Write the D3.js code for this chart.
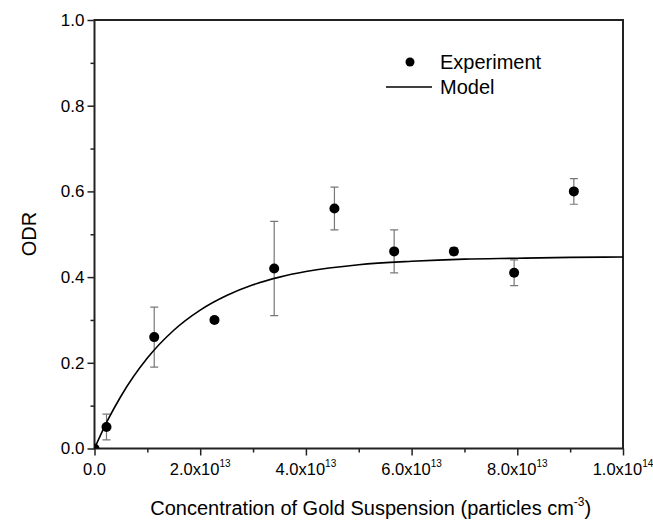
<!DOCTYPE html>
<html>
<head>
<meta charset="utf-8">
<script src="https://cdn.jsdelivr.net/npm/d3@7"></script>
<style>
  body { margin: 0; background: #fff; }
  svg { display: block; font-family: "Liberation Sans", Arial, sans-serif; }
</style>
</head>
<body>
<svg width="653" height="521"></svg>
<script>
// experiment (concentration in particles/cm^3, ODR, error)
const expConc = [0, 2.27e12, 1.13e13, 2.27e13, 3.4e13, 4.54e13, 5.67e13, 6.8e13, 7.94e13, 9.07e13];
const expOdr  = [0, 0.05, 0.26, 0.30, 0.42, 0.56, 0.46, 0.46, 0.41, 0.60];
const expErr  = [0, 0.03, 0.07, 0.006, 0.11, 0.05, 0.05, 0.008, 0.03, 0.03];

// model curve
const modelConc = [0, 0.25e13, 0.5e13, 1e13, 1.5e13, 2e13, 2.5e13, 3e13, 3.5e13, 4e13, 5e13, 6e13, 7e13, 8e13, 9e13, 1e14];
const modelOdr  = [0, 0.066, 0.122, 0.211, 0.276, 0.323, 0.357, 0.382, 0.400, 0.413, 0.429, 0.437, 0.442, 0.444, 0.446, 0.447];

const xTicks = [0, 2e13, 4e13, 6e13, 8e13, 1e14];
const yTicks = [0, 0.2, 0.4, 0.6, 0.8, 1.0];

const svg = d3.select("svg");
const mLeft = 94.5, mRight = 623, mTop = 20, mBottom = 448.5;

const x = d3.scaleLinear().domain([0, 1e14]).range([mLeft, mRight]);
const y = d3.scaleLinear().domain([0, 1]).range([mBottom, mTop]);

svg.append("defs").append("clipPath").attr("id", "plot")
    .append("rect")
        .attr("x", mLeft).attr("y", mTop)
        .attr("width", mRight - mLeft).attr("height", mBottom - mTop);

// minor ticks
svg.append("g")
    .attr("transform", `translate(0,${mBottom})`)
    .call(d3.axisBottom(x).tickValues(d3.range(1e13, 1e14, 2e13)).tickSize(4).tickFormat(""))
    .call(g => g.select(".domain").remove())
    .selectAll("line").attr("stroke", "#222").attr("stroke-width", 1.5);
svg.append("g")
    .attr("transform", `translate(${mLeft},0)`)
    .call(d3.axisLeft(y).tickValues([0.1, 0.3, 0.5, 0.7, 0.9]).tickSize(4).tickFormat(""))
    .call(g => g.select(".domain").remove())
    .selectAll("line").attr("stroke", "#222").attr("stroke-width", 1.5);

// major x axis
const xAxis = svg.append("g")
    .attr("transform", `translate(0,${mBottom})`)
    .call(d3.axisBottom(x).tickValues(xTicks).tickSize(7).tickFormat(""));
xAxis.select(".domain").remove();
xAxis.selectAll("line").attr("stroke", "#222").attr("stroke-width", 1.5);

const xLab = svg.append("g").selectAll("text")
    .data(xTicks)
    .enter().append("text")
        .attr("x", d => x(d))
        .attr("y", 475)
        .attr("text-anchor", "middle")
        .attr("font-size", 16.5)
        .attr("fill", "#000");
xLab.each(function(d) {
    const t = d3.select(this);
    if (d === 0) { t.text("0.0"); return; }
    const e = Math.floor(Math.log10(d) + 1e-9);
    const m = d / Math.pow(10, e);
    t.append("tspan").text(m.toFixed(1) + "x10");
    t.append("tspan").attr("font-size", 10).attr("dy", -8).text(e);
});

// major y axis
const yAxis = svg.append("g")
    .attr("transform", `translate(${mLeft},0)`)
    .call(d3.axisLeft(y).tickValues(yTicks).tickSize(7).tickFormat(d3.format(".1f")));
yAxis.select(".domain").remove();
yAxis.selectAll("line").attr("stroke", "#222").attr("stroke-width", 1.5);
yAxis.selectAll("text")
    .attr("font-size", 17)
    .attr("font-family", "Liberation Sans, Arial, sans-serif")
    .attr("fill", "#000")
    .attr("x", -10);

// frame
svg.append("rect")
    .attr("x", mLeft).attr("y", mTop)
    .attr("width", mRight - mLeft).attr("height", mBottom - mTop)
    .attr("fill", "none")
    .attr("stroke", "#222")
    .attr("stroke-width", 2);

const plot = svg.append("g").attr("clip-path", "url(#plot)");

// error bars
const errs = d3.range(expConc.length).filter(i => expErr[i] > 0);
const eb = plot.selectAll(".err")
    .data(errs)
    .enter().append("g")
        .classed("err", true)
        .attr("stroke", "#777")
        .attr("stroke-width", 1.2);
eb.append("line")
    .attr("x1", i => x(expConc[i])).attr("x2", i => x(expConc[i]))
    .attr("y1", i => y(expOdr[i] - expErr[i])).attr("y2", i => y(expOdr[i] + expErr[i]));
eb.append("line")
    .attr("x1", i => x(expConc[i]) - 4).attr("x2", i => x(expConc[i]) + 4)
    .attr("y1", i => y(expOdr[i] + expErr[i])).attr("y2", i => y(expOdr[i] + expErr[i]));
eb.append("line")
    .attr("x1", i => x(expConc[i]) - 4).attr("x2", i => x(expConc[i]) + 4)
    .attr("y1", i => y(expOdr[i] - expErr[i])).attr("y2", i => y(expOdr[i] - expErr[i]));

// model
const line = d3.line()
    .x(i => x(modelConc[i]))
    .y(i => y(modelOdr[i]))
    .curve(d3.curveMonotoneX);
plot.append("path")
    .attr("d", line(d3.range(modelConc.length)))
    .attr("fill", "none")
    .attr("stroke", "#000")
    .attr("stroke-width", 1.6);

// points
plot.selectAll(".pt")
    .data(d3.range(expConc.length))
    .enter().append("circle")
        .classed("pt", true)
        .attr("cx", i => x(expConc[i]))
        .attr("cy", i => y(expOdr[i]))
        .attr("r", 5)
        .attr("fill", "#000");

// legend
svg.append("circle").attr("cx", 410).attr("cy", 62).attr("r", 4.5).attr("fill", "#000");
svg.append("text").attr("x", 440).attr("y", 69).attr("font-size", 20).text("Experiment");
svg.append("line").attr("x1", 386).attr("x2", 432).attr("y1", 87).attr("y2", 87)
    .attr("stroke", "#000").attr("stroke-width", 1.6);
svg.append("text").attr("x", 440).attr("y", 94).attr("font-size", 20).text("Model");

// axis titles
const xt = svg.append("text")
    .attr("x", (mLeft + mRight) / 2 + 12)
    .attr("y", 515)
    .attr("text-anchor", "middle")
    .attr("font-size", 20)
    .attr("fill", "#000");
xt.append("tspan").text("Concentration of Gold Suspension (particles cm");
xt.append("tspan").attr("font-size", 12).attr("dy", -9).text("-3");
xt.append("tspan").attr("dy", 9).text(")");

svg.append("text")
    .attr("transform", "translate(36,234) rotate(-90)")
    .attr("text-anchor", "middle")
    .attr("font-size", 20)
    .attr("fill", "#000")
    .text("ODR");
</script>
</body>
</html>
